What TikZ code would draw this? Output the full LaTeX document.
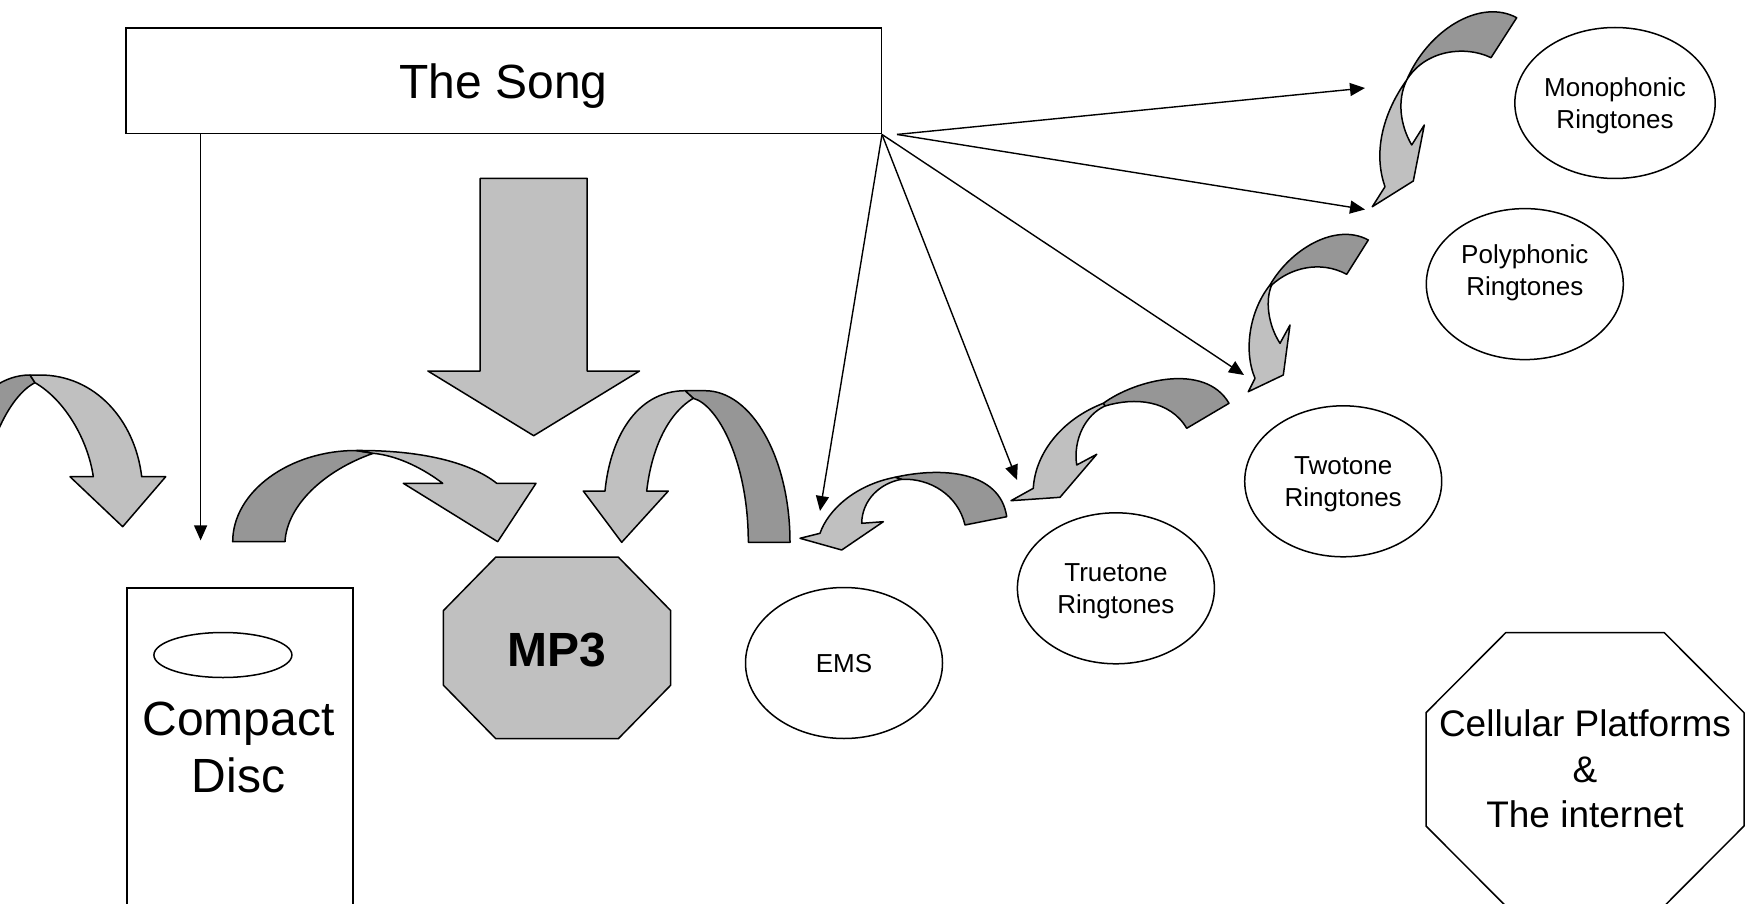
\documentclass[tikz,border=0pt]{standalone}
\usepackage{fontspec}
\setmainfont{Liberation Sans}
\usetikzlibrary{arrows.meta,shapes.geometric,calc}
\definecolor{paleGray}{RGB}{192,192,192}
\definecolor{midGray}{RGB}{150,150,150}
\begin{document}
\begin{tikzpicture}[x=1pt,y=-1pt,
  outline/.style={draw=black,line width=1.5pt,line join=round},
  frontband/.style={outline,fill=paleGray},
  backband/.style={outline,fill=midGray},
  bubble/.style={draw=black,line width=1.5pt,ellipse,inner sep=0pt,
    minimum width=197pt,minimum height=151pt,align=center,
    font=\fontsize{26}{31.6}\selectfont,text depth=0pt},
  feed/.style={line width=1.4pt,-{Triangle[length=15pt,width=13pt]}}]
\useasboundingbox (0,0) rectangle (1747,904);
\clip (0,0) rectangle (1747,904);

% ---------- boxes ----------
\node[draw,line width=1.5pt,minimum width=755.3pt,minimum height=105.8pt,
      inner sep=0pt,font=\fontsize{48}{57}\selectfont,text depth=0pt]
      (song) at (503.6,80.8) {The Song};

\node[draw,line width=1.5pt,minimum width=226pt,minimum height=340pt,
      anchor=north west,inner sep=0pt] (cd) at (126,587) {};
\node[draw,ellipse,line width=1.5pt,minimum width=138pt,minimum height=45pt,
      inner sep=0pt] (disc) at (222.9,655) {};
\node[font=\fontsize{48}{57}\selectfont,align=center,text depth=0pt]
      (cdLabel) at (238.4,747) {Compact\\Disc};

% MP3 octagon
\draw[outline,fill=paleGray] (495.8,557.1) -- (618.3,557.1) -- (670.7,610.6)
  -- (670.7,685.2) -- (618.3,738.7) -- (495.8,738.7) -- (443.4,685.2)
  -- (443.4,610.6) -- cycle;
\node[font=\bfseries\fontsize{48}{57}\selectfont] (mp3) at (557,650) {MP3};

% platforms octagon
\draw[outline] (1505.7,632.7) -- (1664.3,632.7) -- (1744,712.7) -- (1744,826)
  -- (1664.3,906) -- (1505.7,906) -- (1426,826) -- (1426,712.7) -- cycle;
\node[font=\fontsize{37}{45.5}\selectfont,align=center]
      (cell) at (1585,769) {Cellular Platforms\\\&\\The internet};

% ringtone bubbles
\node[bubble] (mono) at (1615,103) {Monophonic\\Ringtones};
\node[bubble,text depth=28.6pt] (poly) at (1524.8,284.1) {Polyphonic\\Ringtones};
\node[bubble] (twotone) at (1343.2,481.3) {Twotone\\Ringtones};
\node[bubble] (truetone) at (1115.9,588.3) {Truetone\\Ringtones};
\node[bubble] (ems) at (844,663) {EMS};

% ---------- big block arrow ----------
\draw[frontband] (480.2,178.3) -- (587.2,178.3) -- (587.2,371) -- (639.5,371)
  -- (533.7,435.7) -- (427.9,371) -- (480.2,371) -- cycle;

% ---------- curved ribbon arrows ----------
% far left
\draw[backband] (35,382.7) .. controls (10,395) and (-20,450) .. (-20,526)
  -- (-60,526) .. controls (-60,442.6) and (-22,375) .. (30,375) -- cycle;
\draw[frontband] (30,375) -- (40,375) .. controls (95,375) and (135,420) .. (141.7,476.7)
  -- (165.7,476.7) -- (122.7,526.7) -- (70,476.7) -- (93.3,476.7)
  .. controls (88,440) and (65,400) .. (35,382.7) -- cycle;

% compact disc to mp3
\draw[backband] (232.7,541.7) .. controls (232.7,491.4) and (289.7,450.5) .. (356,450.5)
  -- (373.3,453.3) .. controls (325,470) and (287,505) .. (285,541.7) -- cycle;
\draw[frontband] (356,450.5) .. controls (420,450) and (470,462) .. (496.7,483.3)
  -- (536,483.3) -- (497.7,541.7) -- (403.3,483.3) -- (442.7,483.3)
  .. controls (425,470) and (400,456) .. (373.3,453.3) -- cycle;

% ems side to mp3
\draw[backband] (748.3,542.3) .. controls (748.3,462) and (718,405) .. (693.3,398.3)
  -- (685,390.7) -- (705,390.7) .. controls (752,390.7) and (790,458.6) .. (790,542.3) -- cycle;
\draw[frontband] (685,390.7) .. controls (635,391) and (610,440) .. (605,491)
  -- (583.3,491) -- (621.7,542.3) -- (668.3,491) -- (646.7,491)
  .. controls (652,445) and (670,412) .. (693.3,398.3) -- cycle;

% truetone to ems
\draw[backband] (895,477.3) .. controls (940,467) and (1000,470) .. (1006.7,516.7)
  -- (965,525) .. controls (958,495) and (930,478) .. (901.7,479.3) -- cycle;
\draw[frontband] (895,477.3) .. controls (855,485) and (828,510) .. (820,533.3)
  -- (800,538.3) -- (841.7,550) -- (883.3,521.7) -- (861.7,523.3)
  .. controls (862,500) and (880,483) .. (901.7,479.3) -- cycle;

% twotone to truetone
\draw[backband] (1103.3,403.3) .. controls (1135,380) and (1205,362) .. (1229,403.3)
  -- (1186.7,428.3) .. controls (1170,400) and (1135,397) .. (1105,406) -- cycle;
\draw[frontband] (1103.3,403.3) .. controls (1060,420) and (1035,455) .. (1033.3,488.3)
  -- (1011,500.7) -- (1060,497.3) -- (1096.7,454.3) -- (1076.7,465)
  .. controls (1073,440) and (1085,415) .. (1105,406) -- cycle;

% polyphonic to twotone
\draw[backband] (1270,285) .. controls (1290,250) and (1335,222) .. (1368.3,240)
  -- (1346.7,274.3) .. controls (1320,260) and (1290,268) .. (1271.7,285) -- cycle;
\draw[frontband] (1270,285) .. controls (1250,310) and (1243,350) .. (1255,378.3)
  -- (1248.3,391.7) -- (1283.3,375) -- (1290,325) -- (1280,343.3)
  .. controls (1268,325) and (1265,300) .. (1271.7,285) -- cycle;

% monophonic to polyphonic
\draw[backband] (1406.7,80) .. controls (1428,30) and (1480,-2) .. (1516.7,17.7)
  -- (1491,57.7) .. controls (1465,45) and (1425,50) .. (1406.7,80) -- cycle;
\draw[frontband] (1406.7,80) .. controls (1385,110) and (1372,150) .. (1385,186.7)
  -- (1372.3,206.7) -- (1413.3,181) -- (1424.3,125) -- (1411.7,145)
  .. controls (1400,125) and (1397,100) .. (1406.7,80) -- cycle;

% ---------- connectors from the song ----------
\coordinate (songFar) at ($(song.south east)+(15,0)$);
\coordinate (tipMono) at (1365,88);
\coordinate (tipPoly) at (1365,209.5);
\coordinate (tipTwo) at (1244,375);
\coordinate (tipTrue) at (1017,480);
\coordinate (tipEms) at (820,511);
\coordinate (tipCD) at (200.6,540.4);

\draw[feed] (songFar) -- (tipMono);
\draw[feed] (songFar) -- (tipPoly);
\draw[feed] (song.south east) -- (tipTwo);
\draw[feed] (song.south east) -- (tipTrue);
\draw[feed] (song.south east) -- (tipEms);
\draw[feed] (song.south -| tipCD) -- (tipCD);
\end{tikzpicture}
\end{document}
